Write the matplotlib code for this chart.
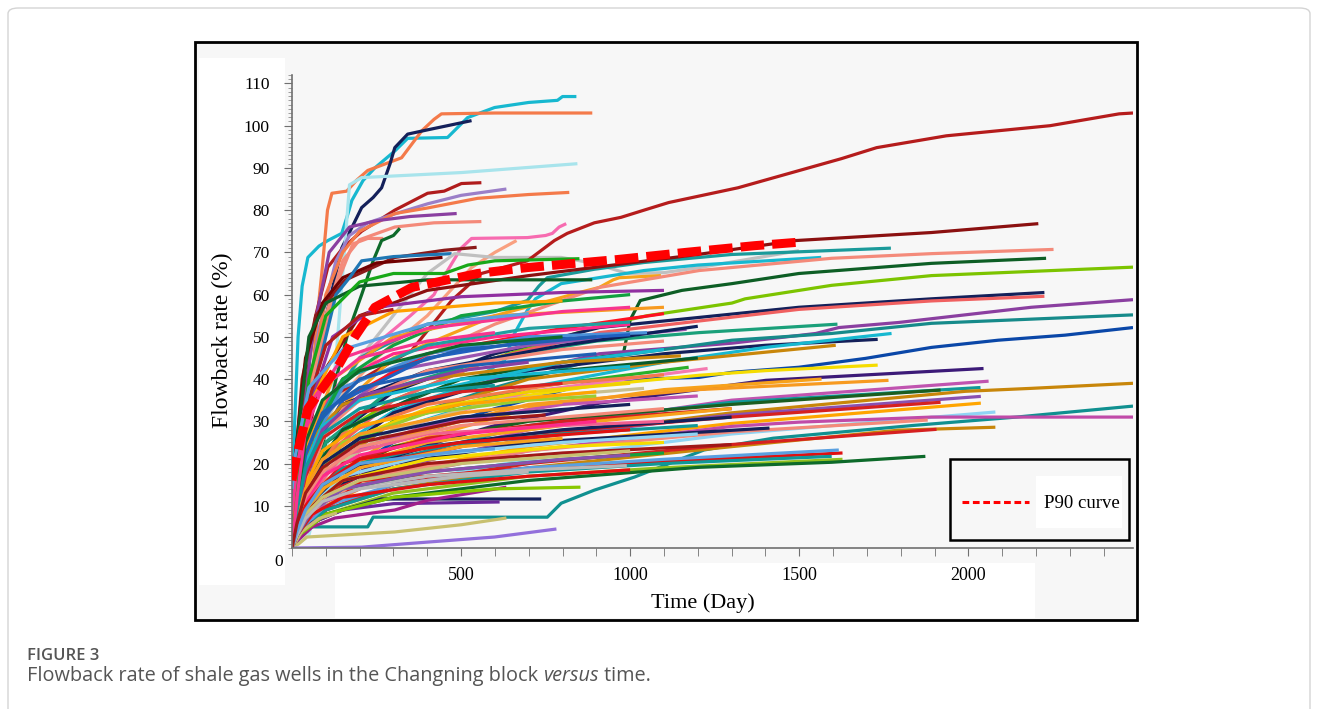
import matplotlib
matplotlib.use("Agg")
import matplotlib.pyplot as plt
from matplotlib.patches import Rectangle, FancyBboxPatch
from matplotlib.lines import Line2D
from matplotlib.ticker import MultipleLocator, FixedLocator

W, H = 1318, 709

# P90 reference curve
p90_days = [0, 9, 47, 136, 186, 245, 354, 549, 696, 962, 1165, 1370, 1513]
p90_rates = [16, 20, 33, 43, 50, 57, 61.7, 65, 66.4, 68.3, 70, 71.6, 72.5]

x_ticks = [500, 1000, 1500, 2000]
y_ticks = [10, 20, 30, 40, 50, 60, 70, 80, 90, 100, 110]

# one colour per well
well_colors = [
    "#17b8d0", "#f47a4a", "#14205a", "#a8e4ec", "#b01c1c", "#9b7fc8", "#f47a4a", "#8a3fa0",
    "#f48a7a", "#f48a7a", "#0d6a2a", "#f76bb0", "#f9a080", "#8b1a1a", "#700000", "#1f77b4",
    "#c0c0c0", "#b51c1c", "#1a9a9a", "#17b8d0", "#f7a21b", "#0d5e25", "#8b1010", "#f48a7a",
    "#7cc400", "#14205a", "#f06060", "#8a3fa0", "#168a8a", "#0a47a8", "#f5dc00", "#1aa07a",
    "#14205a", "#17b8d0", "#c8860a", "#9a55b0", "#2ab02a", "#f47ab0", "#3c1a78", "#f7a21b",
    "#f79a20", "#c054b0", "#109898", "#1b5e20", "#c8860a", "#8a50b0", "#d62020", "#ffa500",
    "#8fd4f4", "#109090", "#c04aa8", "#c8860a", "#d62020", "#f48a7a", "#14205a", "#e01010",
    "#5aa0e0", "#109898", "#90c020", "#0d6a2a", "#14205a", "#6a2a9a", "#a0208a", "#88c800",
    "#c8c070", "#c8c070", "#9370db", "#c8c090", "#ff1020", "#ff2a8a", "#0d1f5a", "#4a90d8",
    "#20a0a0", "#12a040", "#9030a0", "#ffa000", "#b01c1c", "#f79a20", "#2060c0", "#17b8d0",
    "#f48a7a", "#0a5a2a", "#f0d000", "#f47a4a", "#c054b0", "#d62020", "#14205a", "#9acd32",
    "#f7a21b", "#f06090", "#8fd4f4", "#b8b8b8", "#e01010", "#12a040", "#f5dc00", "#109898",
    "#a01818", "#8a50b0", "#1f5fb4", "#0d5e25", "#18a818", "#f7358f", "#c8860a", "#5aa0e0",
    "#f7a21b", "#ff2a8a", "#14205a", "#ffa500", "#d62020", "#17b8d0", "#1f5fb4", "#c8c070",
    "#b8b8b8", "#f48a7a", "#8a3fa0", "#0d6a2a", "#e01010", "#f79a20", "#109898", "#f7358f",
    "#5aa0e0", "#a01818",
]

# (day, flowback rate %) points
well_curves = [
    [(0, 0), (8, 30), (18, 50), (30, 62), (47, 68.8), (80, 71.5), (106, 72.8), (147, 74.5), (165, 79), (177, 82.3), (210, 87), (245, 90), (304, 94), (342, 97), (460, 97.2), (519, 101.9), (599, 104.3), (700, 105.5), (785, 106), (800, 106.9), (841, 106.9)],
    [(0, 0), (30, 10), (55, 35), (75, 55), (88, 65), (105, 80), (118, 84), (162, 84.5), (190, 87), (224, 89.4), (324, 92.4), (384, 98.8), (420, 101.5), (442, 102.8), (600, 103), (888, 103)],
    [(0, 0), (20, 15), (50, 35), (80, 48), (110, 58), (147, 71), (206, 80.6), (240, 83), (265, 85.3), (290, 91), (304, 94.8), (342, 98), (400, 99), (460, 100), (531, 101.2)],
    [(0, 0), (50, 3), (100, 20), (130, 45), (150, 65), (170, 86), (206, 87.7), (501, 88.9), (844, 91)],
    [(0, 0), (15, 15), (40, 38), (70, 55), (106, 66.5), (150, 71), (206, 75), (304, 80), (401, 84), (450, 84.5), (501, 86.3), (560, 86.5)],
    [(0, 0), (15, 12), (40, 30), (80, 52), (130, 68), (170, 74), (224, 77), (300, 79), (401, 81.5), (500, 83.5), (634, 85)],
    [(0, 0), (20, 12), (50, 35), (100, 60), (150, 70), (200, 75), (304, 79.2), (400, 80.5), (549, 82.8), (700, 83.7), (820, 84.2)],
    [(0, 0), (20, 20), (60, 50), (110, 70), (170, 76), (250, 77.5), (350, 78.5), (487, 79.2)],
    [(0, 0), (15, 10), (50, 35), (100, 55), (150, 68), (200, 73), (304, 76), (420, 77), (560, 77.3)],
    [(0, 0), (30, 20), (80, 45), (130, 62), (180, 72), (224, 73.3), (270, 73.3)],
    [(0, 0), (30, 5), (80, 20), (130, 40), (165, 50.8), (206, 60), (240, 68), (265, 72.8), (300, 74), (319, 75.7)],
    [(0, 0), (20, 10), (80, 30), (200, 45), (350, 55), (420, 60), (442, 63.4), (460, 65.7), (500, 71), (531, 73.3), (696, 73.5), (750, 74), (770, 74.5), (790, 76), (811, 76.8)],
    [(0, 0), (30, 15), (100, 32), (250, 45), (400, 55), (531, 66.4), (600, 70), (664, 72.8)],
    [(0, 0), (10, 20), (30, 40), (70, 55), (156, 63.4), (304, 68.8), (450, 70.5), (546, 71.2)],
    [(0, 0), (10, 22), (40, 45), (90, 58), (150, 64), (250, 67.5), (445, 68.8)],
    [(0, 0), (20, 15), (70, 40), (130, 60), (170, 64), (206, 68), (300, 69), (472, 69.7)],
    [(0, 0), (30, 10), (100, 30), (200, 45), (304, 55.5), (400, 65), (481, 69.7), (599, 68.8), (796, 68.8), (894, 67.4), (991, 65), (1100, 65.2), (1204, 66.4), (1499, 70.4)],
    [(0, 0), (15, 8), (40, 20), (100, 35), (250, 42), (354, 46.8), (472, 58.6), (560, 65), (696, 68), (776, 72.8), (814, 74.5), (894, 77), (973, 78.3), (1041, 80), (1114, 81.8), (1319, 85.3), (1625, 92.2), (1729, 94.8), (1935, 97.6), (2242, 100), (2446, 102.8), (2487, 103)],
    [(0, 0), (20, 10), (80, 30), (200, 45), (400, 53), (600, 56), (696, 58.6), (730, 62), (755, 64), (894, 66), (1041, 67.6), (1300, 69.5), (1771, 71)],
    [(0, 0), (20, 8), (100, 22), (304, 32.6), (501, 38), (628, 44.4), (658, 50.8), (696, 56.3), (720, 59), (796, 62.6), (1041, 65.7), (1200, 67), (1565, 68.8)],
    [(0, 0), (20, 10), (100, 30), (300, 45), (600, 55), (850, 60.5), (909, 61.7), (950, 63.5), (968, 64), (1091, 64.5)],
    [(0, 0), (20, 5), (60, 15), (200, 30), (500, 40), (800, 44), (980, 46), (990, 50), (1000, 54), (1030, 58.6), (1153, 61), (1301, 62.6), (1499, 65), (1891, 67.4), (2230, 68.6)],
    [(0, 0), (20, 15), (80, 40), (200, 55), (400, 61), (700, 64.5), (1000, 67.5), (1200, 69.5), (1490, 72.8), (1891, 74.7), (2207, 76.8)],
    [(0, 0), (20, 8), (100, 28), (300, 42), (600, 53), (909, 61.7), (1204, 65.7), (1596, 68.6), (1891, 69.7), (2252, 70.7)],
    [(0, 0), (20, 5), (100, 25), (300, 35), (600, 45), (909, 52.5), (1050, 55), (1301, 58), (1340, 59), (1596, 62.2), (1891, 64.5), (2487, 66.5)],
    [(0, 0), (20, 8), (100, 25), (300, 37), (600, 46), (909, 52.2), (1499, 57), (1891, 59), (2225, 60.5)],
    [(0, 0), (20, 6), (100, 22), (300, 35), (600, 45), (909, 51), (1499, 56.5), (1891, 58.5), (2225, 59.6)],
    [(0, 0), (20, 5), (100, 20), (300, 32), (600, 40), (909, 46), (1301, 48.5), (1549, 50.8), (1617, 52.2), (1794, 53.4), (2186, 57), (2487, 58.8)],
    [(0, 0), (20, 5), (100, 18), (300, 30), (600, 38), (909, 44.9), (1301, 49.2), (1596, 50.8), (1891, 53.2), (2487, 55.2)],
    [(0, 0), (20, 4), (100, 15), (300, 25), (600, 33), (909, 39.7), (1204, 40.4), (1301, 41.6), (1499, 42.8), (1696, 44.9), (1891, 47.5), (2088, 49.2), (2286, 50.4), (2487, 52.2)],
    [(0, 0), (20, 5), (100, 18), (300, 28), (600, 35), (900, 38.5), (1204, 40.9), (1401, 42), (1732, 43.3)],
    [(0, 0), (20, 8), (100, 25), (300, 38), (600, 45), (900, 49), (1204, 51), (1613, 53)],
    [(0, 0), (20, 6), (100, 20), (300, 32), (700, 42), (1100, 46), (1400, 48), (1732, 49.4)],
    [(0, 0), (20, 6), (100, 18), (300, 28), (700, 38), (1100, 44), (1400, 47.5), (1773, 50.8)],
    [(0, 0), (20, 6), (100, 18), (300, 30), (700, 40), (1100, 44), (1608, 48)],
    [(0, 0), (20, 10), (100, 30), (300, 42), (700, 48), (1167, 51.8)],
    [(0, 0), (20, 6), (100, 20), (300, 30), (700, 38), (1173, 42.8)],
    [(0, 0), (20, 5), (100, 18), (300, 28), (700, 37), (1229, 42.5)],
    [(0, 0), (20, 5), (100, 14), (300, 22), (600, 29), (909, 34.3), (1401, 39.7), (2045, 42.5)],
    [(0, 0), (20, 4), (100, 14), (300, 24), (700, 33), (1100, 37.5), (1566, 40)],
    [(0, 0), (20, 5), (100, 16), (300, 26), (700, 34), (1200, 37.5), (1764, 39.7)],
    [(0, 0), (20, 4), (100, 12), (300, 20), (700, 28), (1300, 35), (2060, 39.5)],
    [(0, 0), (20, 4), (100, 13), (300, 21), (700, 29), (1300, 34.5), (2036, 38)],
    [(0, 0), (20, 5), (100, 15), (300, 24), (700, 30), (1300, 34), (1918, 37.4)],
    [(0, 0), (20, 4), (100, 12), (300, 19), (700, 26), (1300, 32), (1991, 37.1), (2186, 37.8), (2487, 39)],
    [(0, 0), (20, 3), (100, 11), (300, 19), (700, 26), (1300, 31.5), (2037, 35.9)],
    [(0, 0), (20, 4), (100, 13), (300, 21), (700, 27), (1300, 31), (1918, 34.5)],
    [(0, 0), (20, 3), (100, 10), (300, 18), (700, 24), (1300, 29.5), (2037, 34.3)],
    [(0, 0), (20, 3), (100, 9), (300, 15), (700, 21), (1300, 27), (2080, 32.2)],
    [(0, 0), (20, 3), (59, 5), (224, 5), (240, 7.3), (755, 7.3), (796, 10.6), (894, 13.7), (1013, 16.8), (1218, 23.2), (1423, 26), (1834, 29), (2142, 31), (2487, 33.6)],
    [(0, 0), (20, 4), (100, 11), (300, 17), (700, 23), (1301, 28.8), (1499, 29.8), (1891, 31), (2487, 31)],
    [(0, 0), (20, 3), (100, 9), (300, 14), (700, 19), (1300, 24), (1794, 27.9), (2080, 28.6)],
    [(0, 0), (20, 3), (100, 9), (300, 15), (700, 20), (1300, 24.5), (1906, 28.1)],
    [(0, 0), (20, 4), (100, 12), (300, 18), (700, 23), (1300, 27.5), (1880, 30.3)],
    [(0, 0), (20, 5), (100, 14), (300, 20), (700, 25), (1412, 28.4)],
    [(0, 0), (20, 3), (100, 9), (206, 16), (400, 17), (696, 18.9), (1100, 20.5), (1628, 22.5)],
    [(0, 0), (20, 3), (100, 10), (300, 15), (700, 19), (1100, 21), (1617, 23.2)],
    [(0, 0), (20, 3), (100, 9), (300, 14), (700, 18), (1100, 20), (1596, 21.7)],
    [(0, 0), (20, 3), (100, 8), (300, 13), (700, 17), (1100, 19), (1628, 21)],
    [(0, 0), (20, 3), (100, 8), (300, 12), (700, 16), (1204, 19.1), (1596, 20.3), (1873, 21.7)],
    [(0, 0), (20, 3), (60, 6), (150, 9), (265, 11.6), (737, 11.6)],
    [(0, 0), (20, 3), (60, 6), (150, 9), (300, 10.5), (614, 10.9)],
    [(0, 0), (20, 2), (60, 5), (127, 7.1), (304, 9), (401, 11.3), (634, 14.4)],
    [(0, 0), (20, 3), (100, 8), (300, 12), (600, 14), (853, 14.4)],
    [(0, 0), (20, 1), (44, 2.6), (304, 3.8), (500, 5.5), (634, 7.1)],
    [(0, 0), (30, 4), (80, 7), (133, 8.3)],
    [(0, 0), (206, 0.2), (401, 1.4), (599, 2.6), (782, 4.5)],
    [(0, 0), (20, 5), (100, 18), (300, 28), (600, 35), (1041, 37.8)],
    [(0, 0), (10, 5), (50, 20), (150, 35), (400, 46), (800, 52), (1100, 55.5)],
    [(0, 0), (15, 10), (60, 30), (150, 40), (300, 46), (600, 50), (1000, 53)],
    [(0, 0), (15, 6), (60, 22), (150, 34), (400, 42), (800, 48), (1200, 52.5)],
    [(0, 0), (15, 8), (60, 25), (150, 38), (400, 46), (700, 50), (1050, 51)],
    [(0, 0), (15, 10), (60, 28), (150, 40), (400, 48), (700, 52), (1000, 53.5)],
    [(0, 0), (15, 8), (60, 26), (150, 40), (300, 48), (500, 55), (800, 58.5), (1000, 60)],
    [(0, 0), (20, 12), (60, 35), (120, 50), (250, 57), (500, 59.5), (800, 60.5), (1100, 61)],
    [(0, 0), (15, 10), (60, 35), (150, 50), (300, 56), (600, 58), (800, 58.5)],
    [(0, 0), (15, 12), (50, 35), (100, 48), (200, 55), (300, 56.5)],
    [(0, 0), (15, 8), (50, 25), (120, 40), (300, 50), (600, 55), (1100, 57)],
    [(0, 0), (15, 6), (60, 22), (150, 35), (400, 45), (700, 49), (1000, 50.5)],
    [(0, 0), (15, 5), (60, 18), (150, 28), (400, 37), (800, 44), (1100, 47)],
    [(0, 0), (15, 7), (60, 22), (150, 33), (400, 42), (800, 47), (1100, 49)],
    [(0, 0), (15, 5), (60, 18), (150, 28), (400, 37), (800, 42), (1200, 45)],
    [(0, 0), (15, 4), (60, 15), (150, 25), (400, 33), (700, 37), (1000, 39)],
    [(0, 0), (15, 5), (60, 17), (150, 27), (400, 34), (800, 39), (1100, 41)],
    [(0, 0), (15, 4), (60, 14), (150, 22), (400, 29), (800, 34), (1200, 36)],
    [(0, 0), (15, 4), (60, 12), (150, 20), (400, 26), (800, 30), (1300, 33)],
    [(0, 0), (15, 3), (60, 10), (150, 18), (400, 24), (800, 28), (1300, 31)],
    [(0, 0), (15, 5), (60, 16), (150, 25), (400, 32), (700, 35), (900, 36)],
    [(0, 0), (15, 3), (60, 11), (150, 19), (400, 25), (900, 30), (1300, 33)],
    [(0, 0), (15, 4), (60, 13), (150, 22), (400, 27), (800, 29), (1100, 30)],
    [(0, 0), (15, 3), (60, 10), (150, 17), (400, 22), (800, 25), (1200, 27)],
    [(0, 0), (15, 3), (60, 9), (150, 14), (400, 17), (700, 18.5), (990, 19.5)],
    [(0, 0), (15, 3), (60, 8), (150, 12), (400, 15), (700, 17), (1000, 18.5)],
    [(0, 0), (15, 3), (60, 9), (150, 14), (400, 18), (800, 21), (1100, 22.5)],
    [(0, 0), (15, 3), (60, 10), (150, 16), (400, 21), (800, 24), (1100, 25)],
    [(0, 0), (15, 4), (60, 12), (150, 19), (400, 24), (800, 27), (1200, 29)],
    [(0, 0), (15, 3), (60, 10), (150, 16), (400, 20), (800, 22.5), (1300, 24.5)],
    [(0, 0), (15, 3), (60, 9), (150, 14), (400, 18), (800, 21), (1000, 22)],
    [(0, 12), (20, 18), (80, 30), (200, 40), (500, 47), (900, 50)],
    [(0, 5), (15, 25), (50, 50), (100, 58), (200, 62), (400, 63.5), (888, 63.5)],
    [(0, 0), (15, 15), (50, 40), (100, 55), (200, 63), (300, 65), (450, 65), (520, 67), (600, 68), (850, 68.5)],
    [(0, 8), (15, 20), (60, 35), (150, 45), (400, 52), (800, 56), (1000, 57)],
    [(0, 3), (15, 12), (60, 26), (150, 34), (400, 40), (800, 44), (1150, 45.5)],
    [(0, 14), (10, 22), (50, 38), (150, 47), (400, 53), (700, 55.5)],
    [(0, 0), (15, 4), (40, 9), (90, 14), (200, 19), (500, 24), (800, 26)],
    [(0, 0), (15, 5), (40, 11), (90, 17), (200, 22), (500, 27), (900, 30)],
    [(0, 0), (15, 6), (40, 13), (90, 20), (200, 26), (500, 31), (1000, 34)],
    [(0, 0), (15, 7), (40, 15), (90, 23), (200, 29), (500, 34), (900, 37)],
    [(0, 0), (15, 8), (40, 17), (90, 26), (200, 32), (500, 37), (800, 39)],
    [(0, 0), (15, 9), (40, 20), (90, 29), (200, 35), (500, 40), (1000, 43)],
    [(0, 0), (15, 10), (40, 22), (90, 32), (200, 38), (500, 43), (900, 46)],
    [(0, 0), (15, 4), (40, 8), (90, 12), (200, 16), (500, 20), (1000, 23)],
    [(0, 0), (15, 3), (40, 7), (90, 11), (200, 14), (500, 17), (700, 18)],
    [(0, 0), (15, 6), (40, 12), (90, 18), (200, 24), (500, 29), (1100, 33)],
    [(0, 0), (15, 8), (40, 18), (90, 28), (200, 36), (500, 42), (700, 44)],
    [(0, 0), (15, 11), (40, 25), (90, 35), (200, 42), (500, 48), (800, 50)],
    [(0, 0), (15, 5), (40, 10), (90, 15), (200, 21), (500, 25), (1000, 28)],
    [(0, 0), (15, 7), (40, 14), (90, 21), (200, 27), (500, 32), (800, 34.5)],
    [(0, 0), (15, 9), (40, 19), (90, 27), (200, 33), (400, 37), (600, 38.5)],
    [(0, 0), (15, 12), (40, 28), (90, 38), (200, 45), (400, 49), (600, 51)],
    [(0, 0), (15, 4), (40, 9), (90, 15), (200, 20), (500, 23), (600, 23.5)],
    [(0, 0), (15, 6), (40, 13), (90, 19), (200, 25), (500, 30), (750, 31.5)],
]

fig = plt.figure(figsize=(W / 100, H / 100), dpi=100)
fig.patch.set_facecolor("white")


def fx(px):
    return px / W


def fy(py):
    return 1 - py / H


# page frame
fig.patches.append(FancyBboxPatch((fx(8), fy(760)), fx(1302), 752 / H,
                                  boxstyle="round,pad=0,rounding_size=0.008",
                                  transform=fig.transFigure, facecolor="white",
                                  edgecolor="#d4d4d4", linewidth=1.0, zorder=0))
# chart picture
fig.patches.append(Rectangle((fx(195), fy(620)), fx(942), 578 / H, transform=fig.transFigure,
                             facecolor="#f7f7f7", edgecolor="black", linewidth=2.0, zorder=1))
fig.patches.append(Rectangle((fx(199), fy(585)), fx(86), 527 / H, transform=fig.transFigure,
                             facecolor="white", edgecolor="none", zorder=1.5))
fig.patches.append(Rectangle((fx(335), fy(618)), fx(700), 55 / H, transform=fig.transFigure,
                             facecolor="white", edgecolor="none", zorder=1.5))

ax = fig.add_axes([fx(292), fy(548), fx(1133 - 292), (548 - 75) / H])
ax.set_facecolor("none")
ax.set_zorder(2)

for c, pts in zip(well_colors, well_curves):
    ax.plot([p[0] for p in pts], [p[1] for p in pts], color=c, lw=2.3,
            solid_capstyle="butt", solid_joinstyle="round")

ax.plot(p90_days, p90_rates, color="#ff0000", lw=6.5, dashes=(2.6, 0.9), zorder=5)

ax.set_xlim(0, 2487)
ax.set_ylim(0, 112)
for s in ["top", "right"]:
    ax.spines[s].set_visible(False)
for s in ["left", "bottom"]:
    ax.spines[s].set_color("#707070")
    ax.spines[s].set_linewidth(1.2)

ax.xaxis.set_major_locator(FixedLocator(x_ticks))
ax.xaxis.set_minor_locator(MultipleLocator(100))
ax.yaxis.set_major_locator(FixedLocator(y_ticks))
ax.yaxis.set_minor_locator(MultipleLocator(1))
ax.tick_params(axis="x", which="both", direction="out", length=6, color="#707070", pad=8)
ax.tick_params(axis="y", which="major", direction="out", length=6, color="#707070", pad=10)
ax.tick_params(axis="y", which="minor", direction="out", length=3, color="#909090")
ax.set_xticklabels([str(v) for v in x_ticks], fontfamily="Liberation Serif", fontsize=13)
ax.set_yticklabels([str(v) for v in y_ticks], fontfamily="Liberation Serif", fontsize=12.5)

fig.text(fx(279), fy(562), "0", ha="center", va="center", fontfamily="Liberation Serif", fontsize=12.5)
fig.text(fx(222), fy(340), "Flowback rate (%)", rotation=90, ha="center", va="center",
         fontfamily="Liberation Serif", fontsize=17)
fig.text(fx(703), fy(603), "Time (Day)", ha="center", va="center",
         fontfamily="Liberation Serif", fontsize=16)

# legend box
fig.patches.append(Rectangle((fx(950), fy(540)), fx(179), 81 / H, transform=fig.transFigure,
                             facecolor="#f7f7f7", edgecolor="black", linewidth=1.8, zorder=6))
fig.patches.append(Rectangle((fx(1036), fy(528)), fx(86), 52 / H, transform=fig.transFigure,
                             facecolor="white", edgecolor="none", zorder=6.5))
fig.lines.append(Line2D([fx(962), fx(1029)], [fy(502), fy(502)], transform=fig.transFigure,
                        color="#ff0000", lw=2.2, dashes=(2.2, 1.2), zorder=7))
fig.text(fx(1082), fy(503), "P90 curve", ha="center", va="center", zorder=7,
         fontfamily="Liberation Serif", fontsize=13.5)

# caption
fig.text(fx(27), fy(656), "FIGURE 3", ha="left", va="center", color="#555555",
         fontfamily="Open Sans", fontweight="semibold", fontsize=12)
renderer = fig.canvas.get_renderer()
t1 = fig.text(fx(27), fy(676), "Flowback rate of shale gas wells in the Changning block ",
              ha="left", va="center", color="#555555", fontfamily="Open Sans", fontsize=14.3)
bb = t1.get_window_extent(renderer)
t2 = fig.text(bb.x1 / W, fy(676), "versus", ha="left", va="center", color="#555555",
              fontfamily="Open Sans", fontstyle="italic", fontsize=14.3)
bb = t2.get_window_extent(renderer)
fig.text(bb.x1 / W, fy(676), " time.", ha="left", va="center", color="#555555",
         fontfamily="Open Sans", fontsize=14.3)

fig.savefig("out.png", dpi=100)
